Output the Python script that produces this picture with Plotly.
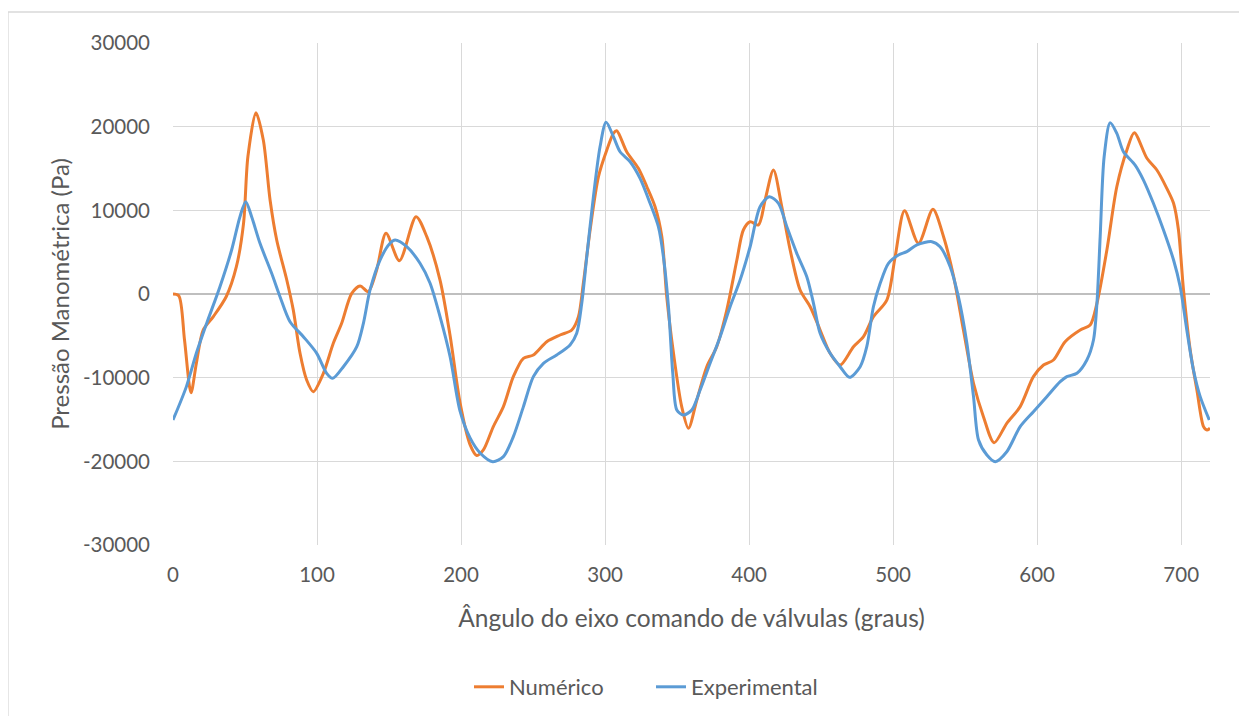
import plotly.graph_objects as go

num_x = [0, 4, 8, 12.5, 16.2, 21, 28, 37, 44, 49, 52, 57.6, 62.7, 67.4, 72, 79, 83.5, 88.2, 92.8, 97.4,
         104.4, 111.3, 117.1, 124, 129.9, 135.6, 141.4, 147.9, 157.2, 168.75, 176.2, 185.4, 192.4, 199.3,
         206.25, 210.9, 215.5, 222.4, 229.4, 236.3, 243.3, 250.2, 259.5, 268.75, 276.9, 281.5, 284.9,
         289.6, 295.4, 301.2, 305.8, 308.1, 315, 323.1, 329, 334.7, 339.4, 342.8, 347.5, 353.2, 357.9,
         363.7, 370.6, 377.5, 384.5, 391.5, 396, 400.7, 406.5, 411.1, 416.9, 422.7, 428.5, 435.4, 442.4,
         449.3, 456.25, 463.2, 472.45, 479.4, 486.3, 495.6, 501.4, 507.9, 517.6, 527.6, 535, 542, 548.8,
         555.8, 562.7, 570.1, 578.9, 588.2, 597.4, 604.4, 611.3, 619.4, 629.9, 636.8, 641.5, 648.4,
         655.3, 662.3, 667.4, 676.2, 683.1, 690, 694.7, 698.1, 701.6, 706.25, 710.9, 715.5, 717.9, 720]
num_y = [0, -200, -5500, -11800, -8300, -4300, -2700, -300, 3260, 8480, 16400, 21670, 18400, 11230, 6450,
         1670, -1900, -7090, -10280, -11670, -9480, -5890, -3500, 50, 960, 280, 2870, 7250, 3980, 9240,
         6850, 1670, -5000, -13000, -18000, -19300, -18640, -15850, -13460, -9880, -7690, -7290, -5700,
         -4900, -4300, -2710, 1280, 7650, 14020, 17210, 19200, 19510, 17000, 15020, 12820, 10430, 6850,
         -320, -7090, -13460, -16050, -12670, -8690, -6300, -1910, 4060, 7650, 8640, 8250, 11230, 14820,
         10430, 5260, 480, -1520, -4300, -7090, -8490, -6300, -5100, -2710, -720, 4460, 9960, 6060, 10120,
         6850, 2070, -4300, -10670, -14660, -17770, -15450, -13460, -9880, -8490, -7890, -5700, -4300,
         -3700, -1110, 5260, 12820, 17210, 19280, 16220, 14820, 12630, 10840, 7650, 480, -6690, -11470,
         -15850, -16250, -16050]

exp_x = [0, 9.3, 16.2, 23.4, 32.6, 40.7, 46.5, 50.5, 54.6, 60.4, 68.5, 74.3, 81.25, 90.5, 99.8, 106.7,
         110.9, 118.3, 127.6, 132.2, 136.8, 143.75, 150.7, 154.2, 162.3, 171.5, 178.5, 185.4, 192.4,
         199.3, 206.25, 213.2, 222, 229.4, 236.3, 243.3, 250.2, 257.2, 266.4, 275.7, 280.3, 283.8, 287.3,
         291.9, 296.5, 300.7, 305.8, 310.4, 317.4, 324.3, 331.25, 337, 340.5, 344, 347, 349.8, 354.4,
         360.2, 366, 372.9, 379.9, 386.8, 393.75, 400.7, 407.6, 414.1, 420.4, 426.2, 433.1, 440.05, 444.7,
         449.3, 456.25, 463.2, 469.7, 477.1, 481.7, 486.3, 491, 496.75, 503.7, 509.5, 516.5, 526.9, 532.6,
         539.6, 545.3, 551.2, 555.8, 559.3, 565.1, 570.9, 578.9, 588.2, 597.4, 606.7, 616, 620.6, 627.6,
         634.5, 639.1, 641.5, 643.75, 646.5, 650.7, 655.3, 659.9, 668, 673.8, 680.7, 687.7, 694.7, 699.3,
         703.9, 708.5, 713.2, 719.5]
exp_y = [-15060, -11070, -7090, -3500, 870, 5260, 9240, 11030, 9240, 6060, 2470, -320, -3310, -5100, -7090,
         -9480, -10080, -8690, -6300, -3500, 480, 4060, 6060, 6450, 5650, 3670, 1280, -2710, -7500, -14000,
         -17200, -19000, -20040, -19440, -17050, -13460, -9880, -8280, -7290, -6090, -4700, -1110, 4460,
         11630, 17600, 20520, 18800, 17000, 15810, 13820, 10840, 8040, 4460, -1520, -9480, -13860, -14460,
         -13860, -11470, -8280, -5100, -1520, 1670, 5650, 10430, 11630, 10840, 8040, 4860, 2070, -1110,
         -4700, -7090, -8690, -9960, -8690, -6300, -1520, 1280, 3670, 4660, 5060, 5860, 6250, 5650, 3260,
         -320, -5890, -12270, -17450, -19240, -20040, -18850, -15850, -14060, -12270, -10480, -9880, -9480,
         -7890, -5500, -1110, 6850, 16400, 20470, 19200, 17000, 15410, 13620, 10840, 7650, 4060, 870,
         -4300, -9080, -12270, -15060]

x_ticks = [0, 100, 200, 300, 400, 500, 600, 700]
y_ticks = [-30000, -20000, -10000, 0, 10000, 20000, 30000]
y_labels = ["-30000", "-20000", "-10000", "0", "10000", "20000", "30000"]

FONT = "Lato"
TXT = "#595959"

# plot area in figure coordinates (page adds an 8px body margin)
L, R, T, B = 165, 45, 35, 179
W, H = 1247, 716
PW, PH = W - L - R, H - T - B


def px_to_paper_x(sx):
    return (sx - 8 - L) / PW


def py_to_paper_y(sy):
    return (H - B - (sy - 8)) / PH


fig = go.Figure()
fig.add_trace(go.Scatter(x=num_x, y=num_y, name="Numérico", mode="lines", legend="legend",
                         line=dict(color="#ED7D31", width=3, shape="spline", smoothing=0.8)))
fig.add_trace(go.Scatter(x=exp_x, y=exp_y, name="Experimental", mode="lines", legend="legend2",
                         line=dict(color="#5B9BD5", width=3, shape="spline", smoothing=0.8)))

leg_common = dict(orientation="h", xanchor="left", yanchor="middle", y=py_to_paper_y(687),
                  font=dict(size=22, color=TXT), tracegroupgap=0, bgcolor="rgba(0,0,0,0)")

fig.update_layout(
    width=W, height=H,
    margin=dict(l=L, r=R, t=T, b=B),
    paper_bgcolor="white", plot_bgcolor="white",
    font=dict(family=FONT, color=TXT, size=20),
    showlegend=True,
    legend=dict(x=px_to_paper_x(469), **leg_common),
    legend2=dict(x=px_to_paper_x(651), **leg_common),
    xaxis=dict(range=[0, 720], tickvals=x_ticks, showgrid=True, gridcolor="#d9d9d9", gridwidth=1,
               zeroline=False, showline=False, ticks="", ticklabelstandoff=15,
               tickfont=dict(size=20.5, color=TXT),
               title=dict(text="Ângulo do eixo comando de válvulas (graus)", font=dict(size=24.5, color=TXT),
                          standoff=25)),
    yaxis=dict(range=[-30000, 30000], tickvals=y_ticks, ticktext=y_labels, showgrid=True,
               gridcolor="#d9d9d9", gridwidth=1,
               zeroline=True, zerolinecolor="#bfbfbf", zerolinewidth=1.5, showline=False, ticks="",
               ticklabelstandoff=22, tickfont=dict(size=20.5, color=TXT),
               title=dict(text="Pressão Manométrica (Pa)", font=dict(size=24, color=TXT), standoff=6)),
    shapes=[dict(type="rect", xref="paper", yref="paper", x0=(0 - L) / PW, x1=(W + 5 - L) / PW,
                 y0=(H - B - (H + 5)) / PH, y1=(H - B - 4) / PH, line=dict(color="#d9d9d9", width=1.3),
                 fillcolor="rgba(0,0,0,0)", layer="below")],
)

fig.write_html("out.html")
